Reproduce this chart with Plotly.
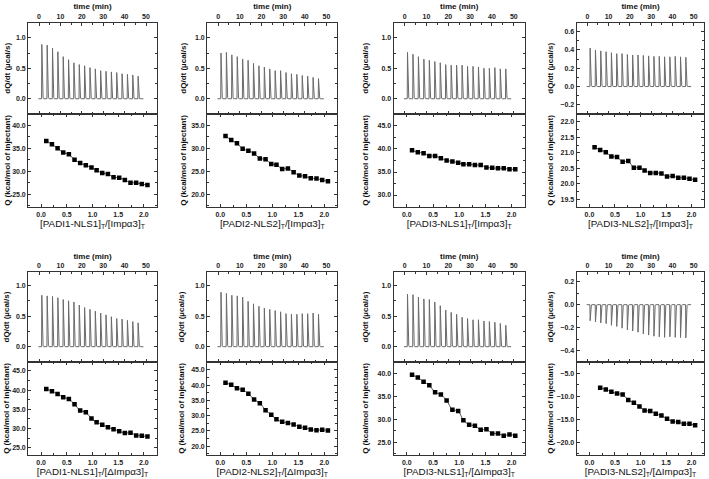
import plotly.graph_objects as go

W, H = 709, 479
FONT = "Arial, Liberation Sans, sans-serif"

# ---------------- data ----------------
# injection times (min) of the raw ITC traces
inj_times = [1.2, 3.7, 6.2, 8.7, 11.2, 13.7, 16.2, 18.7, 21.2, 23.7,
             26.2, 28.7, 31.2, 33.7, 36.2, 38.7, 41.2, 43.7, 46.2]
# molar ratios of the integrated heats
ratio = [0.10, 0.21, 0.32, 0.43, 0.54, 0.65, 0.76, 0.87, 0.98, 1.08,
         1.19, 1.30, 1.41, 1.52, 1.63, 1.74, 1.85, 1.96, 2.07]
ratio8 = [0.21, 0.32, 0.43, 0.54, 0.65, 0.76, 0.87, 0.98, 1.08,
          1.19, 1.30, 1.41, 1.52, 1.63, 1.74, 1.85, 1.96, 2.07]

# raw peak heights (µcal/s)
p1_peaks = [0.89, 0.88, 0.83, 0.77, 0.69, 0.64, 0.59, 0.56, 0.54, 0.51,
            0.49, 0.46, 0.45, 0.44, 0.43, 0.41, 0.40, 0.39, 0.37]
p2_peaks = [0.75, 0.76, 0.72, 0.69, 0.65, 0.63, 0.58, 0.54, 0.52, 0.49,
            0.46, 0.46, 0.43, 0.41, 0.40, 0.38, 0.37, 0.35, 0.33]
p3_peaks = [0.76, 0.73, 0.69, 0.65, 0.63, 0.61, 0.59, 0.56, 0.55, 0.55,
            0.55, 0.53, 0.53, 0.52, 0.50, 0.50, 0.51, 0.49, 0.49]
p4_peaks = [0.42, 0.40, 0.39, 0.38, 0.37, 0.36, 0.36, 0.35, 0.345, 0.345,
            0.34, 0.335, 0.33, 0.33, 0.325, 0.325, 0.33, 0.325, 0.32]
p5_peaks = [0.84, 0.83, 0.82, 0.80, 0.77, 0.75, 0.73, 0.68, 0.64, 0.61,
            0.58, 0.55, 0.52, 0.49, 0.46, 0.45, 0.43, 0.41, 0.39]
p6_peaks = [0.89, 0.87, 0.84, 0.83, 0.81, 0.74, 0.70, 0.66, 0.63, 0.61,
            0.59, 0.57, 0.54, 0.53, 0.53, 0.54, 0.54, 0.55, 0.53]
p7_peaks = [0.86, 0.85, 0.81, 0.78, 0.77, 0.73, 0.67, 0.60, 0.56, 0.53,
            0.48, 0.46, 0.44, 0.44, 0.42, 0.41, 0.40, 0.38, 0.35]
p8_peaks = [-0.14, -0.15, -0.16, -0.165, -0.18, -0.19, -0.205, -0.22, -0.23, -0.24,
            -0.255, -0.265, -0.275, -0.28, -0.285, -0.28, -0.285, -0.287, -0.29]

# integrated heats Q (kcal/mol of injectant)
p1_q = [36.6, 35.9, 35.0, 34.1, 33.7, 32.5, 31.8, 31.3, 30.8, 30.2,
        29.6, 29.4, 28.7, 28.6, 28.1, 27.5, 27.5, 27.2, 27.0]
p2_q = [32.7, 31.8, 31.1, 29.9, 29.5, 28.9, 27.8, 27.6, 26.6, 26.4,
        25.5, 25.6, 24.8, 24.1, 23.9, 23.5, 23.4, 23.1, 22.8]
p3_q = [39.7, 39.3, 39.1, 38.5, 38.5, 38.0, 37.5, 37.3, 37.0, 36.7,
        36.7, 36.5, 36.5, 36.0, 35.9, 35.8, 35.8, 35.6, 35.6]
p4_q = [21.18, 21.09, 21.02, 20.88, 20.86, 20.71, 20.73, 20.52, 20.52, 20.43,
        20.35, 20.35, 20.33, 20.23, 20.25, 20.19, 20.19, 20.16, 20.13]
p5_q = [40.3, 39.7, 39.0, 38.1, 37.7, 36.3, 34.7, 34.2, 32.6, 31.6,
        31.0, 30.3, 29.8, 29.3, 28.8, 28.9, 28.2, 28.1, 27.9]
p6_q = [40.8, 40.1, 39.0, 38.5, 37.2, 35.3, 34.1, 31.8, 30.3, 28.8,
        28.0, 27.6, 27.1, 26.4, 26.0, 25.5, 25.2, 25.4, 25.1]
p7_q = [39.7, 39.1, 38.2, 37.4, 35.9, 35.4, 34.1, 32.1, 31.8, 29.8,
        28.8, 28.6, 27.7, 27.8, 26.9, 26.9, 26.4, 26.7, 26.4]
p8_q = [-8.1, -8.5, -9.0, -9.4, -9.6, -10.8, -11.4, -12.2, -13.1, -13.2,
        -13.8, -14.2, -14.9, -15.5, -15.6, -16.0, -16.0, -16.3]

x_labels = [
    "[PADI1-NLS1]<sub>T</sub>/[Impα3]<sub>T</sub>",
    "[PADI2-NLS2]<sub>T</sub>/[Impα3]<sub>T</sub>",
    "[PADI3-NLS1]<sub>T</sub>/[Impα3]<sub>T</sub>",
    "[PADI3-NLS2]<sub>T</sub>/[Impα3]<sub>T</sub>",
    "[PADI1-NLS1]<sub>T</sub>/[ΔImpα3]<sub>T</sub>",
    "[PADI2-NLS2]<sub>T</sub>/[ΔImpα3]<sub>T</sub>",
    "[PADI3-NLS1]<sub>T</sub>/[ΔImpα3]<sub>T</sub>",
    "[PADI3-NLS2]<sub>T</sub>/[ΔImpα3]<sub>T</sub>",
]
time_title = "time (min)"
raw_title = "dQ/dt (µcal/s)"
q_title = "Q (kcal/mol of injectant)"

# ---------------- layout geometry (pixels) ----------------
cols = [(28.3, 156.7), (207.3, 337.3), (393.7, 524.7), (576.7, 704.3)]
rows = [dict(top=22.5, mid=114, bot=207), dict(top=272, mid=362, bot=455)]
# distance (px) from the left frame to the centre of the y titles
ytitle_dist = [19.5, 22.5, 27.5, 25.5, 20.5, 24.5, 27.5, 25.5]

panels = [
    dict(peaks=p1_peaks, rx=ratio, q=p1_q, yr_raw=[-0.25, 1.25], d_raw=0.5, yr_q=[22.2, 42.5], d_q=5),
    dict(peaks=p2_peaks, rx=ratio, q=p2_q, yr_raw=[-0.25, 1.25], d_raw=0.5, yr_q=[17.2, 37.5], d_q=5),
    dict(peaks=p3_peaks, rx=ratio, q=p3_q, yr_raw=[-0.25, 1.25], d_raw=0.5, yr_q=[27.4, 47.6], d_q=5),
    dict(peaks=p4_peaks, rx=ratio, q=p4_q, yr_raw=[-0.3, 0.7], d_raw=0.2, yr_q=[19.25, 22.25], d_q=0.5),
    dict(peaks=p5_peaks, rx=ratio, q=p5_q, yr_raw=[-0.25, 1.22], d_raw=0.5, yr_q=[23.1, 47.3], d_q=5),
    dict(peaks=p6_peaks, rx=ratio, q=p6_q, yr_raw=[-0.25, 1.22], d_raw=0.5, yr_q=[17.1, 47.6], d_q=5),
    dict(peaks=p7_peaks, rx=ratio, q=p7_q, yr_raw=[-0.25, 1.22], d_raw=0.5, yr_q=[22.2, 42.5], d_q=5),
    dict(peaks=p8_peaks, rx=ratio8, q=p8_q, yr_raw=[-0.5, 0.285], d_raw=0.2, yr_q=[-22.8, -2.5], d_q=5),
]

TICK_SIZE = 7


def raw_trace(times, peaks):
    xs, ys = [-0.3], [0.0]
    for t, h in zip(times, peaks):
        xs += [t, t + 0.12, t + 0.35, t + 0.7, t + 1.0]
        ys += [0.0, h, 0.12 * h, 0.02 * h, 0.0]
    xs.append(48.8)
    ys.append(0.0)
    return xs, ys


def label_width(lo, hi, dtick):
    # rough width (px) of the widest tick label, bold Arial
    best = 0.0
    v = (int(lo / dtick) - 1) * dtick
    while v <= hi + 1e-9:
        if lo <= v <= hi:
            s = f"{v:.1f}"
            w = 0.0
            for ch in s:
                w += 0.278 if ch == "." else (0.584 if ch == "-" else 0.556)
            best = max(best, w * TICK_SIZE)
        v += dtick
    return best


def y_standoff(dist, lo, hi, dtick):
    return max(0.0, dist - label_width(lo, hi, dtick) - 6.5)


def px_x(v):
    return v / W


def px_y(v):
    return 1 - v / H


LINE = "#333333"
tickfont = dict(size=TICK_SIZE, family=FONT, color="#222222", weight="bold")
common = dict(showline=True, linecolor=LINE, linewidth=1.3, mirror="ticks",
              ticks="inside", ticklen=3, tickwidth=1, tickcolor=LINE,
              showgrid=False, zeroline=False, tickfont=tickfont)
bold8 = dict(size=8, family=FONT, color="#111111", weight="bold")
reg9 = dict(size=9.8, family=FONT, color="#111111")

fig = go.Figure()
layout = {}

for k, p in enumerate(panels):
    r = rows[k // 4]
    c = cols[k % 4]
    n_top = 2 * k + 1
    n_bot = 2 * k + 2
    xt = "x" if n_top == 1 else f"x{n_top}"
    yt = "y" if n_top == 1 else f"y{n_top}"
    xb = f"x{n_bot}"
    yb = f"y{n_bot}"
    xkey_t = "xaxis" if n_top == 1 else f"xaxis{n_top}"
    ykey_t = "yaxis" if n_top == 1 else f"yaxis{n_top}"
    xkey_b = f"xaxis{n_bot}"
    ykey_b = f"yaxis{n_bot}"

    dom_x = [px_x(c[0]), px_x(c[1])]
    dom_top = [px_y(r["mid"]), px_y(r["top"])]
    dom_bot = [px_y(r["bot"]), px_y(r["mid"])]

    xs, ys = raw_trace(inj_times, p["peaks"])
    fig.add_trace(go.Scatter(x=xs, y=ys, mode="lines", xaxis=xt, yaxis=yt,
                             line=dict(color="#6a6a6a", width=1), showlegend=False,
                             hoverinfo="skip"))
    fig.add_trace(go.Scatter(x=p["rx"], y=p["q"], mode="lines", xaxis=xb, yaxis=yb,
                             line=dict(color="#555555", width=1, shape="spline", smoothing=0.8),
                             showlegend=False, hoverinfo="skip"))
    fig.add_trace(go.Scatter(x=p["rx"], y=p["q"], mode="markers", xaxis=xb, yaxis=yb,
                             marker=dict(symbol="square", size=4.5, color="#000000"),
                             showlegend=False))

    d = ytitle_dist[k]
    layout[xkey_t] = dict(common, domain=dom_x, anchor=yt, side="top", range=[-5, 55],
                          dtick=10, tick0=0, tickformat="d",
                          title=dict(text=time_title, font=bold8, standoff=1),
                          minor=dict(ticks="inside", ticklen=2, dtick=5, tick0=0, tickcolor=LINE))
    layout[ykey_t] = dict(common, domain=dom_top, anchor=xt, range=p["yr_raw"],
                          dtick=p["d_raw"], tick0=0, tickformat=".1f",
                          title=dict(text=raw_title, font=bold8,
                                     standoff=y_standoff(d, *p["yr_raw"], p["d_raw"])),
                          minor=dict(ticks="inside", ticklen=2, dtick=p["d_raw"] / 2, tick0=0, tickcolor=LINE))
    layout[xkey_b] = dict(common, domain=dom_x, anchor=yb, range=[-0.25, 2.25],
                          dtick=0.5, tick0=0, tickformat=".1f",
                          title=dict(text=x_labels[k], font=reg9, standoff=1.5),
                          minor=dict(ticks="inside", ticklen=2, dtick=0.25, tick0=0, tickcolor=LINE))
    layout[ykey_b] = dict(common, domain=dom_bot, anchor=xb, range=p["yr_q"],
                          dtick=p["d_q"], tick0=0, tickformat=".1f",
                          title=dict(text=q_title, font=bold8,
                                     standoff=y_standoff(d, *p["yr_q"], p["d_q"])),
                          minor=dict(ticks="inside", ticklen=2, dtick=p["d_q"] / 2, tick0=0, tickcolor=LINE))

fig.update_layout(width=W, height=H, margin=dict(l=0, r=0, t=0, b=0),
                  paper_bgcolor="white", plot_bgcolor="white", **layout)

fig.write_html("out.html")
